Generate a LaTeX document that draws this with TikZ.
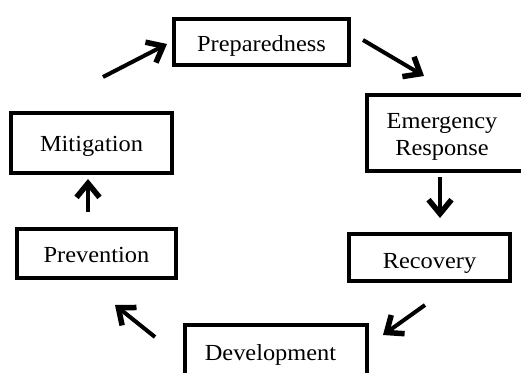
\documentclass[tikz,border=0pt]{standalone}
\usepackage{fontspec}
\setmainfont{Liberation Serif}[FakeStretch=1.06]
\usetikzlibrary{arrows.meta}
\begin{document}
\begin{tikzpicture}[x=1pt,y=-1pt,
  box/.style={draw, line width=4pt, rectangle, inner sep=0pt,
    font=\fontsize{23}{27}\selectfont},
  arr/.style={line width=4pt, -{Straight Barb[length=14pt,width=23pt,line width=5.5pt]}}]
\useasboundingbox (0,0) rectangle (521,372);
\clip (0,0) rectangle (521,372);
% boxes
\node[box, minimum width=175pt, minimum height=46pt, text height=18.6pt, text depth=0pt]
  (prep) at (261.5,41.7) {Preparedness};
\node[box, minimum width=163pt, minimum height=76pt, text depth=28.9pt]
  (emer) at (448.5,133) {\hspace*{-13pt}\begin{tabular}[t]{@{}c@{}}Emergency\\Response\end{tabular}};
\node[box, minimum width=161pt, minimum height=47pt, text height=21.6pt, text depth=0pt]
  (reco) at (429.5,257.5) {Recovery};
\node[box, minimum width=182pt, minimum height=60pt, text height=10pt, text depth=0pt]
  (deve) at (276,355) {\hspace*{-11pt}Development};
\node[box, minimum width=159pt, minimum height=49pt, text height=18.4pt, text depth=0pt]
  (prev) at (96.5,253.5) {Prevention};
\node[box, minimum width=161pt, minimum height=60pt, text height=17.4pt, text depth=0pt]
  (miti) at (91.5,143) {Mitigation};
% arrow end points
\coordinate (a1s) at (103,77);  \coordinate (a1e) at (167,44);
\coordinate (a2s) at (363,40);  \coordinate (a2e) at (424,76);
\coordinate (a3s) at (440,177); \coordinate (a3e) at (440,218);
\coordinate (a4s) at (425,305); \coordinate (a4e) at (383,335);
\coordinate (a5s) at (155,337); \coordinate (a5e) at (115,305);
\coordinate (a6s) at (88,212);  \coordinate (a6e) at (88,179);
\draw[arr] (a1s) -- (a1e);
\draw[arr] (a2s) -- (a2e);
\draw[arr] (a3s) -- (a3e);
\draw[arr] (a4s) -- (a4e);
\draw[arr] (a5s) -- (a5e);
\draw[arr] (a6s) -- (a6e);
\end{tikzpicture}
\end{document}
